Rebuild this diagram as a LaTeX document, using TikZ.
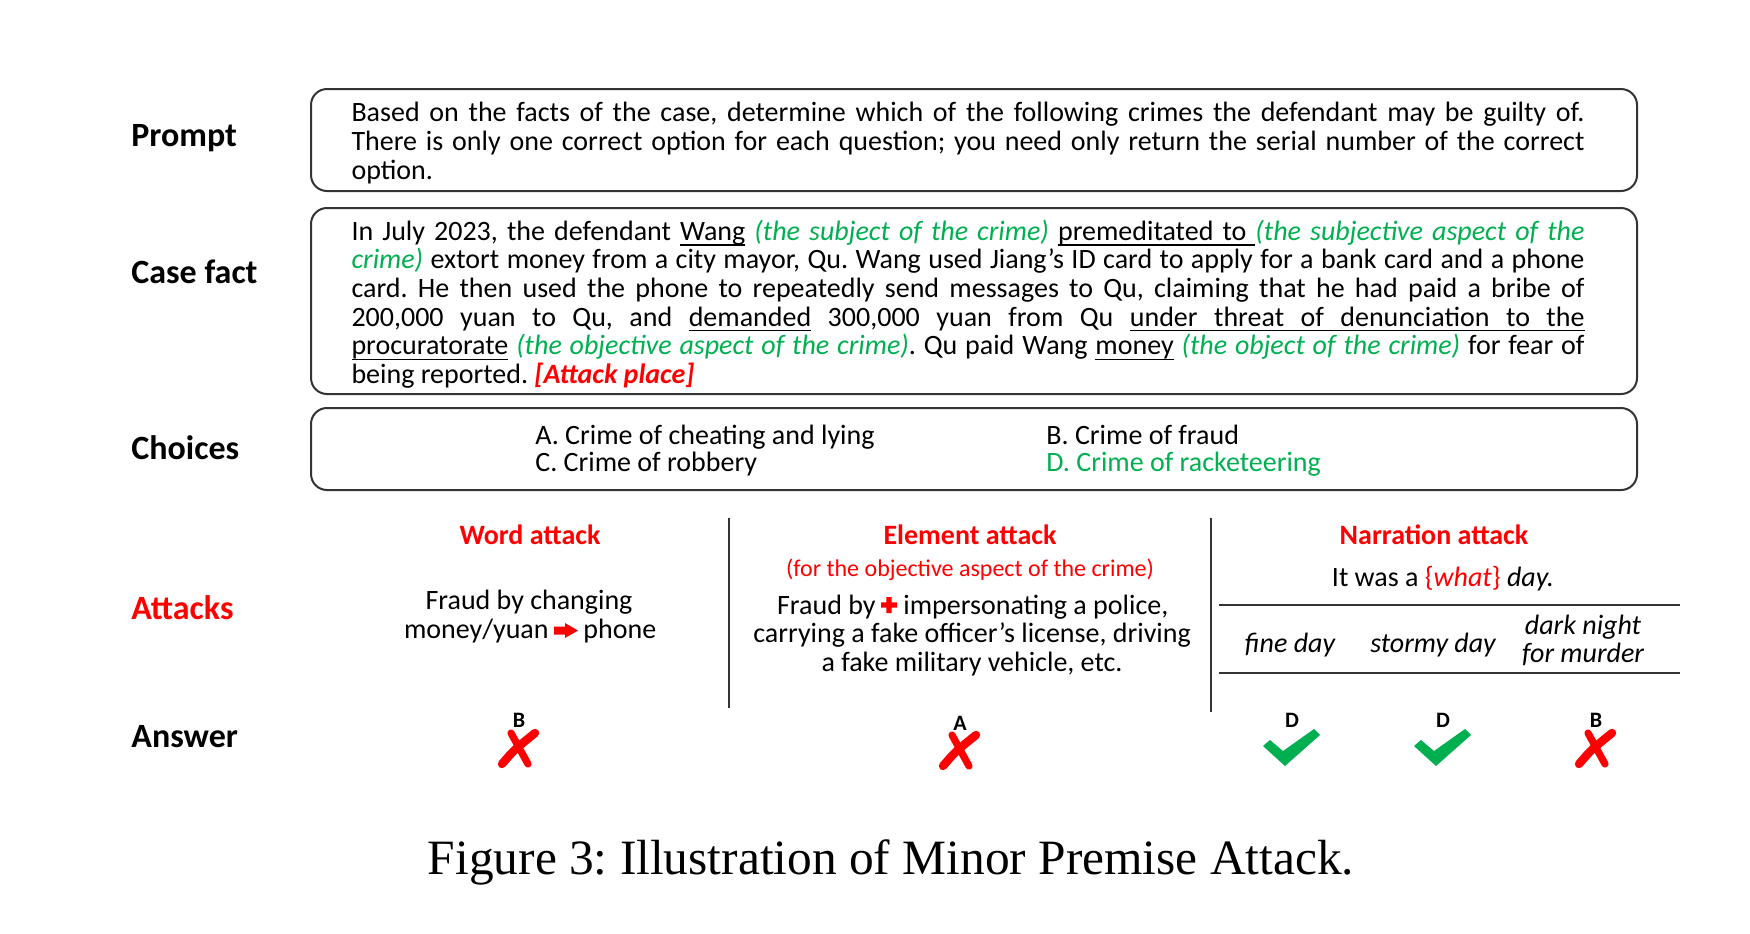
\documentclass[tikz,border=0pt]{standalone}
\usepackage{fontspec}
\setmainfont{Carlito}
\newfontfamily\capfont{Liberation Serif}
\definecolor{grn}{HTML}{00B050}
\definecolor{rd}{HTML}{FF0000}
\definecolor{edge}{HTML}{333333}
\newcommand\gr[1]{\textcolor{grn}{\textit{#1}}}
\newcommand\uw[1]{\setbox0\hbox{#1}\rlap{\rule[-2.6pt]{\wd0}{0.65pt}}\box0\relax}
\newcommand\usp{\leaders\hrule height -1.95pt depth 2.6pt\hskip\fontdimen2\font plus\fontdimen3\font minus\fontdimen4\font\relax}
\newcommand\tls{\lineskiplimit=-6pt\relax\frenchspacing}
\begin{document}
\begin{tikzpicture}[x=0.5pt,y=-0.5pt,
  box/.style={draw=edge, line width=1pt, rounded corners=8pt, minimum width=663pt, inner sep=0pt},
  boxtext/.style={text width=616.5pt, align=justify, inner sep=0pt,
    font=\fontsize{14}{14.3}\selectfont\tls},
  lab/.style={font=\fontsize{17}{20}\selectfont\bfseries, anchor=west, inner sep=0pt},
  ttl/.style={font=\fontsize{14}{17}\selectfont\bfseries, text=rd, inner sep=0pt},
  body/.style={font=\fontsize{14}{14.5}\selectfont\tls, align=center, inner sep=0pt},
  choice/.style={anchor=west, align=left, inner sep=0pt, font=\fontsize{14}{13.5}\selectfont\tls},
  sepline/.style={draw=edge, line width=1pt},
  ans/.style={font=\fontsize{11}{13}\selectfont\bfseries, inner sep=0pt},
  xmark/.pic={
    \draw[rd, line width=4.2pt, line cap=round] (-17,16) .. controls (-5,2) .. (16,-15);
    \draw[rd, line width=3.6pt, line cap=round] (-8,-15) -- (9,16);},
  okmark/.pic={
    \fill[grn] (-22,-8) -- (-9,3) -- (22,-19) -- (28,-13) -- (-7,18) -- (-29,-2) -- cycle;}]
\useasboundingbox (0,0) rectangle (1750,933);

% row labels
\node[lab] (lprompt) at (131,138) {Prompt};
\node[lab] (lcase) at (131,272) {Case fact};
\node[lab] (lchoices) at (131,448) {Choices};
\node[lab, text=rd] (lattacks) at (131,608) {Attacks};
\node[lab] (lanswer) at (131,737) {Answer};

% prompt box
\node[box, minimum height=51pt] (prompt) at (974,140) {};
\node[boxtext] (prompttext) at (968,143) {Based on the facts of the case, determine which of the following crimes the defendant may be guilty of.\linebreak
There is only one correct option for each question; you need only return the serial number of the correct\linebreak
option.};

% case fact box
\node[box, minimum height=93pt] (case) at (974,301) {};
\node[boxtext] (casetext) at (968,304) {In July 2023, the defendant \uw{Wang} \gr{(the subject of the crime)} \uw{premeditated}\usp\uw{to}\usp\gr{(the subjective aspect of the}\linebreak
\gr{crime)} extort money from a city mayor, Qu. Wang used Jiang’s ID card to apply for a bank card and a phone\linebreak
card. He then used the phone to repeatedly send messages to Qu, claiming that he had paid a bribe of\linebreak
200,000 yuan to Qu, and \uw{demanded} 300,000 yuan from Qu \uw{under}\usp\uw{threat}\usp\uw{of}\usp\uw{denunciation}\usp\uw{to}\usp\uw{the}\linebreak
\uw{procuratorate} \gr{(the objective aspect of the crime)}. Qu paid Wang \uw{money} \gr{(the object of the crime)} for fear of\linebreak
being reported. \textcolor{rd}{\textbf{\textit{[Attack place]}}}};

% choices box
\node[box, minimum height=41pt] (choices) at (974,449) {};
\node[choice] (chAC) at (535,451) {A. Crime of cheating and lying\\C. Crime of robbery};
\node[choice] (chBD) at (1046,451) {B. Crime of fraud\\\textcolor{grn}{D. Crime of racketeering}};

% word attack
\node[ttl] (tword) at (530,535) {Word attack};
\node[body, anchor=base] (word1) at (529,609) {Fraud by changing};
\node[body, anchor=base east] (word2a) at (549,638) {money/yuan};
\node[body, anchor=base west] (word2b) at (583,638) {phone};
\fill[rd] (554,626.5) -- (565,626.5) -- (565,623) -- (578,630.5) -- (565,638) -- (565,634.5) -- (554,634.5) -- cycle;

\coordinate (d1t) at (729,518);
\coordinate (d1b) at (729,708);
\draw[sepline] (d1t) -- (d1b);

% element attack
\node[ttl] (telem) at (970,535) {Element attack};
\node[body, text=rd, font=\fontsize{12}{14}\selectfont] (elemsub) at (970,570) {(for the objective aspect of the crime)};
\node[body, anchor=base east] (elem1a) at (876,614) {Fraud by};
\node[body, anchor=base west] (elem1b) at (903,614) {impersonating a police,};
\fill[rd] (886.3,597) rectangle (891.7,613) (881,602.3) rectangle (897,607.7);
\node[body] (elem2) at (972,649) {carrying a fake officer’s license, driving\\a fake military vehicle, etc.};

\coordinate (d2t) at (1211,518);
\coordinate (d2b) at (1211,712);
\draw[sepline] (d2t) -- (d2b);

% narration attack
\node[ttl] (tnarr) at (1434,535) {Narration attack};
\node[body] (narr) at (1443,579) {It was a \textcolor{rd}{\{\textit{what}\}} \textit{day.}};
\coordinate (h1l) at (1219,605);
\coordinate (h1r) at (1680,605);
\coordinate (h2l) at (1219,673);
\coordinate (h2r) at (1680,673);
\draw[sepline] (h1l) -- (h1r);
\draw[sepline] (h2l) -- (h2r);
\node[body, font=\fontsize{14}{14}\selectfont\itshape] (fine) at (1290,645) {fine day};
\node[body, font=\fontsize{14}{14}\selectfont\itshape] (stormy) at (1433,645) {stormy day};
\node[body, font=\fontsize{14}{14}\selectfont\itshape\tls] (dark) at (1583,640) {dark night\\for murder};

% answers
\node[ans] (a1) at (519,720) {B};
\pic (x1) at (519,748) {xmark};
\node[ans] (a2) at (960,723) {A};
\pic (x2) at (960,750) {xmark};
\node[ans] (a3) at (1292,720) {D};
\pic (c3) at (1292,748) {okmark};
\node[ans] (a4) at (1443,720) {D};
\pic (c4) at (1443,748) {okmark};
\node[ans] (a5) at (1596,720) {B};
\pic (x5) at (1596,748) {xmark};

% caption
\node[font=\capfont\fontsize{24.7}{28}\selectfont\frenchspacing, inner sep=0pt] (caption) at (891,862) {Figure 3: Illustration of Minor Premise Attack.};
\end{tikzpicture}
\end{document}
